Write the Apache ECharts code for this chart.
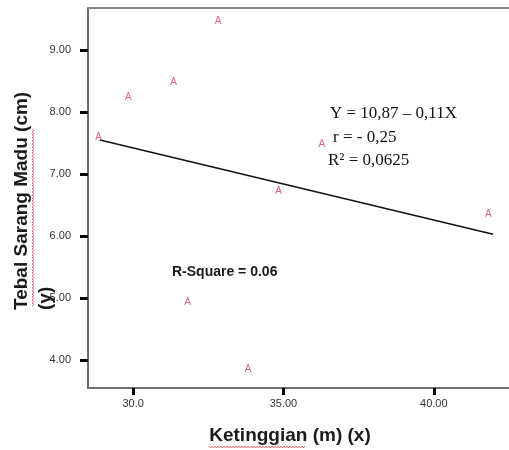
<!DOCTYPE html>
<html>
<head>
<meta charset="utf-8">
<script src="https://cdn.jsdelivr.net/npm/echarts@6/dist/echarts.min.js"></script>
<style>
html,body{margin:0;padding:0;background:#fff;}
#c{width:509px;height:450px;}
</style>
</head>
<body>
<div id="c"></div>
<script>
// Data
var ketinggian = [28.85, 29.84, 31.35, 32.83, 36.28, 34.84, 41.81, 31.81, 33.82];
var tebal      = [7.59, 8.24, 8.49, 9.47, 7.49, 6.73, 6.35, 4.93, 3.86];
var fitX = [28.9, 41.97];
var fitY = [7.55, 6.03];
var xTicks = [30, 35, 40];
var xTickLabels = ['30.0', '35.00', '40.00'];
var yTicks = [4, 5, 6, 7, 8, 9];
var yTickLabels = ['4.00', '5.00', '6.00', '7.00', '8.00', '9.00'];
var eqText = 'Y = 10,87 \u2013 0,11X';
var rText = 'r = - 0,25';
var r2Text = 'R\u00B2 = 0,0625';
var rsqText = 'R-Square = 0.06';
var xTitle = 'Ketinggian (m) (x)';
var yTitle1 = 'Tebal Sarang Madu (cm)';
var yTitle2 = '(y)';

var pts = ketinggian.map(function (x, i) { return [x, tebal[i]]; });
var fit = fitX.map(function (x, i) { return [x, fitY[i]]; });

// spell-check style wavy underline (decoration)
function wavy(x0, y0, len, vertical) {
  var p = [];
  for (var t = 0, k = 0; t <= len; t += 1.5, k++) {
    var off = (k % 2 === 0) ? -1 : 1;
    p.push(vertical ? [x0 + off, y0 - t] : [x0 + t, y0 + off]);
  }
  return p;
}

var chart = echarts.init(document.getElementById('c'), null, {renderer: 'canvas'});
var serif = '"Liberation Serif", "DejaVu Serif", serif';
var sans = '"Liberation Sans", Arial, sans-serif';
chart.setOption({
  animation: false,
  backgroundColor: '#fff',
  grid: {left: 88, top: 8, right: -5, bottom: 62, show: false},
  xAxis: [{
    type: 'value', min: 28.5, max: 42.5,
    axisLine: {show: true, onZero: false, lineStyle: {color: '#6e6e6e', width: 2}},
    axisTick: {show: true, length: 7, customValues: xTicks, lineStyle: {color: '#000', width: 3}},
    axisLabel: {customValues: xTicks, margin: 10, color: '#333', fontSize: 11, fontFamily: sans,
      formatter: function (v) { return xTickLabels[xTicks.indexOf(v)]; }},
    splitLine: {show: false}
  }, {
    type: 'value', min: 28.5, max: 42.5, position: 'top',
    axisLine: {show: true, onZero: false, lineStyle: {color: '#858585', width: 2}},
    axisTick: {show: false}, axisLabel: {show: false}, splitLine: {show: false}
  }],
  yAxis: {
    type: 'value', min: 3.55, max: 9.68,
    axisLine: {show: true, onZero: false, lineStyle: {color: '#6e6e6e', width: 2}},
    axisTick: {show: true, length: 8, customValues: yTicks, lineStyle: {color: '#000', width: 3}},
    axisLabel: {customValues: yTicks, margin: 17, color: '#333', fontSize: 11, fontFamily: sans,
      formatter: function (v) { return yTickLabels[yTicks.indexOf(v)]; }},
    splitLine: {show: false}
  },
  series: [
    {
      type: 'line', data: fit, symbol: 'none', silent: true,
      lineStyle: {color: '#111', width: 1.5}, z: 2
    },
    {
      type: 'scatter', data: pts, symbolSize: 1,
      itemStyle: {color: 'rgba(0,0,0,0)'},
      label: {show: true, position: 'inside', formatter: 'A', color: '#d4405c', fontSize: 10, fontFamily: sans},
      z: 3
    }
  ],
  graphic: [
    {type: 'text', left: 330, top: 105, style: {text: eqText, font: '17px ' + serif, fill: '#111'}},
    {type: 'text', left: 333, top: 129, style: {text: rText, font: '17px ' + serif, fill: '#111'}},
    {type: 'text', left: 328, top: 152, style: {text: r2Text, font: '17px ' + serif, fill: '#111'}},
    {type: 'text', left: 172, top: 265, style: {text: rsqText, font: 'bold 14px ' + sans, fill: '#1a1a1a'}},
    {type: 'text', x: 290, y: 436, style: {text: xTitle, font: 'bold 19px ' + sans, fill: '#1a1a1a', align: 'center', verticalAlign: 'middle'}},
    {type: 'text', x: 22, y: 310, rotation: Math.PI / 2, style: {text: yTitle1, font: 'bold 19px ' + sans, fill: '#1a1a1a', align: 'left', verticalAlign: 'middle'}},
    {type: 'text', x: 46, y: 310, rotation: Math.PI / 2, style: {text: yTitle2, font: 'bold 19px ' + sans, fill: '#1a1a1a', align: 'left', verticalAlign: 'middle'}},
    {type: 'polyline', silent: true, shape: {points: wavy(209, 447, 97, false)}, style: {stroke: '#e05060', lineWidth: 0.8, fill: null}},
    {type: 'polyline', silent: true, shape: {points: wavy(33, 306, 178, true)}, style: {stroke: '#e05060', lineWidth: 0.8, fill: null}}
  ]
});
</script>
</body>
</html>
